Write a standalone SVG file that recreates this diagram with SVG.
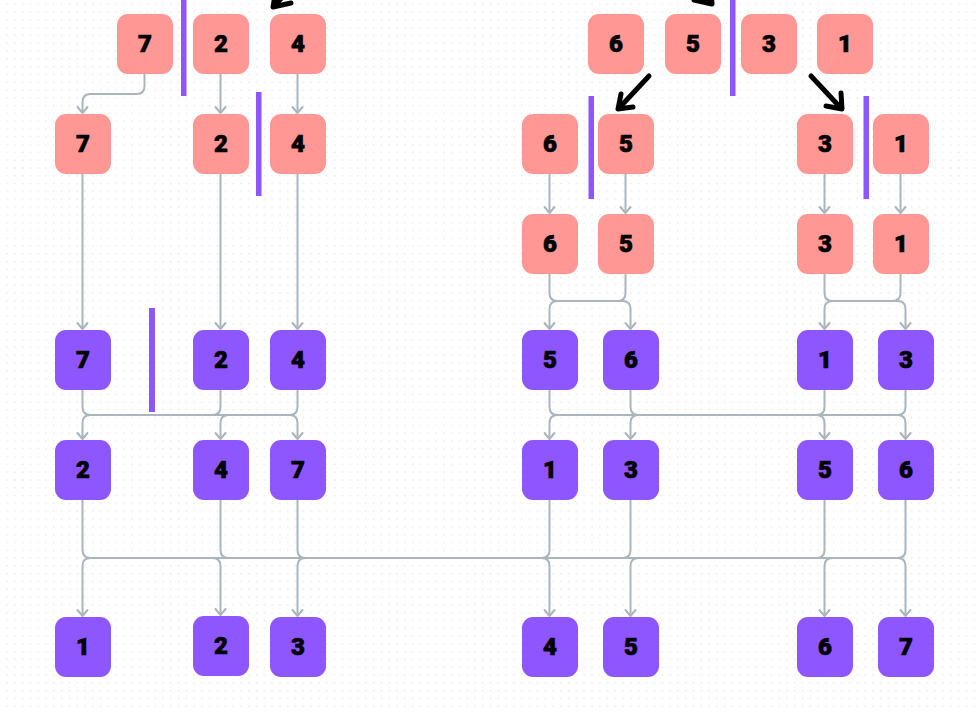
<svg xmlns="http://www.w3.org/2000/svg" width="978" height="713" viewBox="0 0 978 713">
<style>
.s rect{fill:#ff9794}
.p rect{fill:#8d56fe}
.n text{font-family:Roboto,"Liberation Sans",sans-serif;font-weight:900;font-size:24px;fill:#000;stroke:#000;stroke-width:0.7;text-anchor:middle}
.c path{fill:none;stroke:#abb5bd;stroke-width:2;stroke-linejoin:round;marker-end:url(#ah)}
.bar{fill:#8d56fe}
.bk path{fill:none;stroke:#000;stroke-width:5;stroke-linecap:round;stroke-linejoin:round}
</style>
<defs>
<pattern id="dots" x="6.3" y="3.5" width="7.8" height="7.8" patternUnits="userSpaceOnUse">
<rect x="0" y="0" width="1.3" height="1.3" fill="#e4e4e4"/>
</pattern>
<marker id="ah" markerUnits="userSpaceOnUse" markerWidth="14" markerHeight="14" refX="0" refY="0" orient="auto" overflow="visible">
<path d="M-6,-5 L0,0 L-6,5" fill="none" stroke="#abb5bd" stroke-width="2" stroke-linecap="round" stroke-linejoin="round"/>
</marker>
</defs>
<rect width="978" height="713" fill="#fff"/>
<rect width="978" height="713" fill="url(#dots)"/>

<g id="connectors" class="c">
<path d="M144.5 74 V86 Q144.5 94 136.5 94 H90.5 Q82.5 94 82.5 102 V113"/>
<path d="M220.5 74 V113"/>
<path d="M297.5 74 V113"/>
<path d="M82.5 174 V329"/>
<path d="M220.5 174 V329"/>
<path d="M297.5 174 V329"/>
<path d="M549.5 174 V213"/>
<path d="M625.5 174 V213"/>
<path d="M824.5 174 V213"/>
<path d="M900.5 174 V213"/>
<path d="M549.5 274 V293 Q549.5 301 557.5 301 H622.5 Q630.5 301 630.5 309 V329"/>
<path d="M625.5 274 V293 Q625.5 301 617.5 301 H557.5 Q549.5 301 549.5 309 V329"/>
<path d="M824.5 274 V293 Q824.5 301 832.5 301 H897.5 Q905.5 301 905.5 309 V329"/>
<path d="M900.5 274 V293 Q900.5 301 892.5 301 H832.5 Q824.5 301 824.5 309 V329"/>
<path d="M82.5 390 V407 Q82.5 415 90.5 415 H289.5 Q297.5 415 297.5 423 V439"/>
<path d="M220.5 390 V407 Q220.5 415 212.5 415 H90.5 Q82.5 415 82.5 423 V439"/>
<path d="M297.5 390 V407 Q297.5 415 289.5 415 H228.5 Q220.5 415 220.5 423 V439"/>
<path d="M549.5 390 V407 Q549.5 415 557.5 415 H816.5 Q824.5 415 824.5 423 V439"/>
<path d="M630.5 390 V407 Q630.5 415 638.5 415 H897.5 Q905.5 415 905.5 423 V439"/>
<path d="M824.5 390 V407 Q824.5 415 816.5 415 H557.5 Q549.5 415 549.5 423 V439"/>
<path d="M905.5 390 V407 Q905.5 415 897.5 415 H638.5 Q630.5 415 630.5 423 V439"/>
<path d="M82.5 500 V550 Q82.5 558 90.5 558 H212.5 Q220.5 558 220.5 566 V615"/>
<path d="M220.5 500 V550 Q220.5 558 228.5 558 H541.5 Q549.5 558 549.5 566 V616"/>
<path d="M297.5 500 V550 Q297.5 558 305.5 558 H897.5 Q905.5 558 905.5 566 V616"/>
<path d="M549.5 500 V550 Q549.5 558 541.5 558 H90.5 Q82.5 558 82.5 566 V616"/>
<path d="M630.5 500 V550 Q630.5 558 622.5 558 H305.5 Q297.5 558 297.5 566 V616"/>
<path d="M824.5 500 V550 Q824.5 558 816.5 558 H638.5 Q630.5 558 630.5 566 V616"/>
<path d="M905.5 500 V550 Q905.5 558 897.5 558 H832.5 Q824.5 558 824.5 566 V616"/>
</g>

<g id="dividers">
<rect class="bar" x="181" y="0" width="5.5" height="96"/>
<rect class="bar" x="256" y="92" width="5.5" height="104"/>
<rect class="bar" x="149" y="308" width="6" height="104"/>
<rect class="bar" x="730" y="0" width="5.5" height="96"/>
<rect class="bar" x="588.5" y="96" width="5.5" height="103"/>
<rect class="bar" x="863.5" y="96" width="5.5" height="103"/>
</g>

<g id="split-arrows" class="bk">
<path d="M308 -30 L275 5 M291 3 L273 7 L276 -10"/>
<path d="M680 -30 L709 1 M694 0 L712 4 L711 -12"/>
<path d="M649 76 L621 106 M621 94 L618 109 L633 107"/>
<path d="M811 76 L839 106 M826 106 L842 109 L841 93"/>
</g>

<g id="n1-7" class="n s"><rect x="117" y="14" width="56" height="60" rx="11"/><text x="145" y="52">7</text></g>
<g id="n1-2" class="n s"><rect x="193" y="14" width="56" height="60" rx="11"/><text x="221" y="52">2</text></g>
<g id="n1-4" class="n s"><rect x="270" y="14" width="56" height="60" rx="11"/><text x="298" y="52">4</text></g>
<g id="n1-6" class="n s"><rect x="588" y="14" width="56" height="60" rx="11"/><text x="616" y="52">6</text></g>
<g id="n1-5" class="n s"><rect x="665" y="14" width="56" height="60" rx="11"/><text x="693" y="52">5</text></g>
<g id="n1-3" class="n s"><rect x="741" y="14" width="56" height="60" rx="11"/><text x="769" y="52">3</text></g>
<g id="n1-1" class="n s"><rect x="817" y="14" width="56" height="60" rx="11"/><text x="845" y="52">1</text></g>

<g id="n2-7" class="n s"><rect x="55" y="114" width="56" height="60" rx="11"/><text x="83" y="152">7</text></g>
<g id="n2-2" class="n s"><rect x="193" y="114" width="56" height="60" rx="11"/><text x="221" y="152">2</text></g>
<g id="n2-4" class="n s"><rect x="270" y="114" width="56" height="60" rx="11"/><text x="298" y="152">4</text></g>
<g id="n2-6" class="n s"><rect x="522" y="114" width="56" height="60" rx="11"/><text x="550" y="152">6</text></g>
<g id="n2-5" class="n s"><rect x="598" y="114" width="56" height="60" rx="11"/><text x="626" y="152">5</text></g>
<g id="n2-3" class="n s"><rect x="797" y="114" width="56" height="60" rx="11"/><text x="825" y="152">3</text></g>
<g id="n2-1" class="n s"><rect x="873" y="114" width="56" height="60" rx="11"/><text x="901" y="152">1</text></g>

<g id="n3-6" class="n s"><rect x="522" y="214" width="56" height="60" rx="11"/><text x="550" y="252">6</text></g>
<g id="n3-5" class="n s"><rect x="598" y="214" width="56" height="60" rx="11"/><text x="626" y="252">5</text></g>
<g id="n3-3" class="n s"><rect x="797" y="214" width="56" height="60" rx="11"/><text x="825" y="252">3</text></g>
<g id="n3-1" class="n s"><rect x="873" y="214" width="56" height="60" rx="11"/><text x="901" y="252">1</text></g>

<g id="n4-7" class="n p"><rect x="55" y="330" width="56" height="60" rx="11"/><text x="83" y="368">7</text></g>
<g id="n4-2" class="n p"><rect x="193" y="330" width="56" height="60" rx="11"/><text x="221" y="368">2</text></g>
<g id="n4-4" class="n p"><rect x="270" y="330" width="56" height="60" rx="11"/><text x="298" y="368">4</text></g>
<g id="n4-5" class="n p"><rect x="522" y="330" width="56" height="60" rx="11"/><text x="550" y="368">5</text></g>
<g id="n4-6" class="n p"><rect x="603" y="330" width="56" height="60" rx="11"/><text x="631" y="368">6</text></g>
<g id="n4-1" class="n p"><rect x="797" y="330" width="56" height="60" rx="11"/><text x="825" y="368">1</text></g>
<g id="n4-3" class="n p"><rect x="878" y="330" width="56" height="60" rx="11"/><text x="906" y="368">3</text></g>

<g id="n5-2" class="n p"><rect x="55" y="440" width="56" height="60" rx="11"/><text x="83" y="478">2</text></g>
<g id="n5-4" class="n p"><rect x="193" y="440" width="56" height="60" rx="11"/><text x="221" y="478">4</text></g>
<g id="n5-7" class="n p"><rect x="270" y="440" width="56" height="60" rx="11"/><text x="298" y="478">7</text></g>
<g id="n5-1" class="n p"><rect x="522" y="440" width="56" height="60" rx="11"/><text x="550" y="478">1</text></g>
<g id="n5-3" class="n p"><rect x="603" y="440" width="56" height="60" rx="11"/><text x="631" y="478">3</text></g>
<g id="n5-5" class="n p"><rect x="797" y="440" width="56" height="60" rx="11"/><text x="825" y="478">5</text></g>
<g id="n5-6" class="n p"><rect x="878" y="440" width="56" height="60" rx="11"/><text x="906" y="478">6</text></g>

<g id="n6-1" class="n p"><rect x="55" y="617" width="56" height="60" rx="11"/><text x="83" y="655">1</text></g>
<g id="n6-2" class="n p"><rect x="193" y="616" width="56" height="60" rx="11"/><text x="221" y="654">2</text></g>
<g id="n6-3" class="n p"><rect x="270" y="617" width="56" height="60" rx="11"/><text x="298" y="655">3</text></g>
<g id="n6-4" class="n p"><rect x="522" y="617" width="56" height="60" rx="11"/><text x="550" y="655">4</text></g>
<g id="n6-5" class="n p"><rect x="603" y="617" width="56" height="60" rx="11"/><text x="631" y="655">5</text></g>
<g id="n6-6" class="n p"><rect x="797" y="617" width="56" height="60" rx="11"/><text x="825" y="655">6</text></g>
<g id="n6-7" class="n p"><rect x="878" y="617" width="56" height="60" rx="11"/><text x="906" y="655">7</text></g>
</svg>
